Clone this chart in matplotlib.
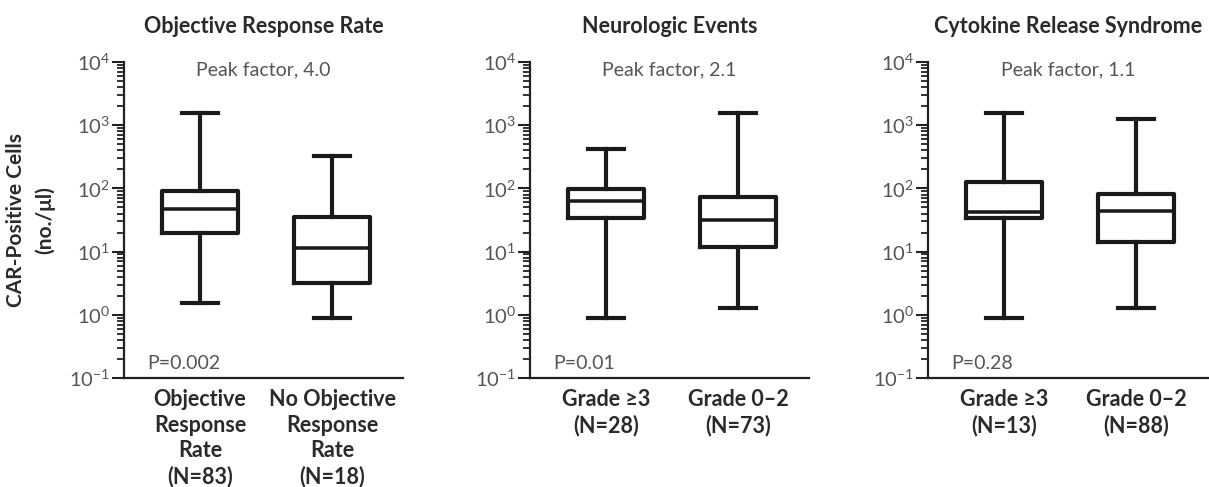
import numpy as np
import matplotlib
matplotlib.use("Agg")
import matplotlib.pyplot as plt
from matplotlib.ticker import LogLocator, NullFormatter

plt.rcParams["font.family"] = ["Lato", "DejaVu Sans"]

# panel titles, annotations, group labels
titles = ["Objective Response Rate", "Neurologic Events", "Cytokine Release Syndrome"]
peak_text = ["Peak factor, 4.0", "Peak factor, 2.1", "Peak factor, 1.1"]
p_text = ["P=0.002", "P=0.01", "P=0.28"]
group_labels = [
    ["Objective\nResponse\nRate\n(N=83)", "No Objective\nResponse\nRate\n(N=18)"],
    ["Grade \u22653\n(N=28)", "Grade 0\u20132\n(N=73)"],
    ["Grade \u22653\n(N=13)", "Grade 0\u20132\n(N=88)"],
]

# box statistics (cells/ul), per panel: [group1, group2]
whislo = [[1.55, 0.88], [0.88, 1.26], [0.88, 1.26]]
q1 = [[20, 3.2], [34, 12], [34, 14]]
med = [[47, 11.4], [63, 32], [42, 44]]
q3 = [[91, 35], [98, 74], [128, 83]]
whishi = [[1550, 325], [420, 1550], [1550, 1250]]

W, H = 1209, 487
fig = plt.figure(figsize=(W / 100, H / 100), dpi=100)
fig.patch.set_facecolor("white")

lefts = [124, 530, 928]
widths = [279, 279, 281]
ax_top, ax_bot = 62, 378

TXT = "#2a2a2a"
GRAY = "#555555"

for i in range(3):
    ax = fig.add_axes([lefts[i] / W, 1 - ax_bot / H, widths[i] / W, (ax_bot - ax_top) / H])
    stats = []
    for j in range(2):
        stats.append(dict(whislo=whislo[i][j], q1=q1[i][j], med=med[i][j],
                          q3=q3[i][j], whishi=whishi[i][j], fliers=[]))
    lw = 3.0
    ax.bxp(stats, positions=[1, 2], widths=0.58, capwidths=0.27,
           showfliers=False,
           boxprops=dict(color="#1a1a1a", linewidth=lw),
           medianprops=dict(color="#1a1a1a", linewidth=lw * 0.85),
           whiskerprops=dict(color="#1a1a1a", linewidth=lw),
           capprops=dict(color="#1a1a1a", linewidth=lw))
    ax.set_yscale("log")
    ax.set_ylim(0.1, 1e4)
    xr = widths[i] / 132.0
    ax.set_xlim(0.424, 0.424 + xr)

    for s in ("top", "right"):
        ax.spines[s].set_visible(False)
    for s in ("left", "bottom"):
        ax.spines[s].set_linewidth(1.6)
        ax.spines[s].set_color("#222222")

    ax.yaxis.set_major_locator(LogLocator(base=10, numticks=10))
    ax.yaxis.set_minor_locator(LogLocator(base=10, subs=np.arange(2, 10), numticks=20))
    ax.yaxis.set_minor_formatter(NullFormatter())
    ax.tick_params(axis="y", which="major", length=9, width=1.5, color="#222222",
                   labelsize=14.5, labelcolor=GRAY, pad=1)
    ax.tick_params(axis="y", which="minor", length=5, width=1.3, color="#222222")
    ax.tick_params(axis="x", length=0, pad=8)
    ax.set_xticks([1, 2])
    ax.set_xticklabels(group_labels[i], fontsize=15.5, fontweight="bold",
                       color=TXT, linespacing=1.27, va="top")

    ax.set_title(titles[i], fontsize=15.5, fontweight="bold", color=TXT, pad=21)
    ax.text(0.5, 0.975, peak_text[i], transform=ax.transAxes, ha="center",
            va="center", fontsize=14, color=GRAY)
    ax.text(0.082, 0.047, p_text[i], transform=ax.transAxes, ha="left",
            va="center", fontsize=14, color=GRAY)

    if i == 0:
        ax.set_ylabel("CAR-Positive Cells\n(no./\u03bcl)", fontsize=15,
                      fontweight="bold", color=TXT, labelpad=10, linespacing=1.5)

fig.savefig("out.png", dpi=100, facecolor="white")
